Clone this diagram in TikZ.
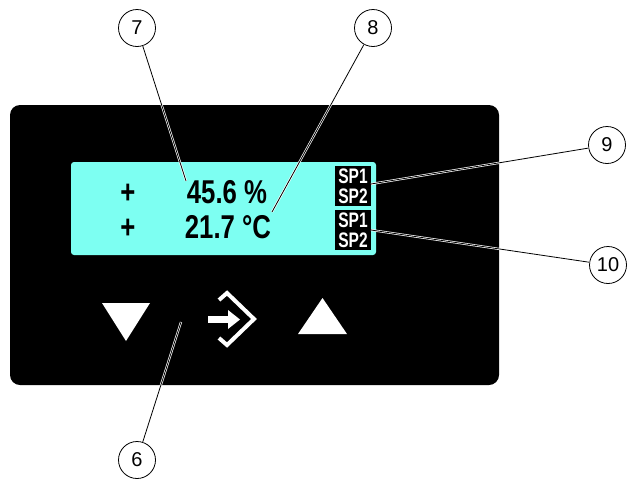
\documentclass[tikz,border=0pt]{standalone}
\usepackage{fontspec}
\setmainfont{Liberation Sans}
\newfontfamily\lcdfont[FakeStretch=0.78]{Liberation Sans}
\newfontfamily\spfont[FakeStretch=0.74]{Liberation Sans}
\definecolor{lcdcyan}{HTML}{7DFFF2}
\begin{document}
\begin{tikzpicture}[x=1pt,y=-1pt,
  callout/.style={circle,draw=black,line width=0.8pt,fill=white,minimum size=37pt,inner sep=0pt,font=\fontsize{20}{20}\selectfont},
  leader/.style={draw=white,double=black,line width=0.7pt,double distance=0.8pt},
  digits/.style={anchor=base,inner sep=0pt,font=\lcdfont\bfseries\fontsize{33}{33}\selectfont},
  sptext/.style={anchor=base,inner sep=0pt,text=white,font=\spfont\bfseries\fontsize{21}{21}\selectfont},
  spbox/.style={fill=black},
  key/.style={fill=white,draw=none}]
\useasboundingbox (0,0) rectangle (631,480);
% panel
\fill[black,rounded corners=10pt] (10,105) rectangle (499,385);
% LCD
\fill[lcdcyan,rounded corners=3pt] (71,162) rectangle (376,255);
% readings
\node[digits] (p1) at (128,203) {+};
\node[digits] (p2) at (128,238) {+};
\node[digits] (v1) at (227,203) {45.6 \%};
\node[digits] (v2) at (228,238) {21.7 °C};
\coordinate (t7) at (186,181);
\coordinate (t8) at (272,212);
% SP boxes
\fill[spbox] (335,166) rectangle (371,206);
\fill[spbox] (335,210) rectangle (371,250);
\node[sptext] (s11) at (353,183) {SP1};
\node[sptext] (s12) at (353,203) {SP2};
\node[sptext] (s21) at (353,227) {SP1};
\node[sptext] (s22) at (353,247) {SP2};
\coordinate (t9) at (371,184);
\coordinate (t10) at (371,230);
% keys
\fill[key] (102,303) -- (150,303) -- (126,341) -- cycle;
\fill[key] (298,334) -- (347,334) -- (322.5,298) -- cycle;
\draw[white,line width=4pt,line join=miter] (219,300) -- (227,293) -- (254,319) -- (227,345) -- (219,338);
\fill[white] (208,316) rectangle (230,323);
\fill[white] (228,310) -- (240,319.5) -- (228,329) -- cycle;
\coordinate (t6) at (181,322);
% callouts
\node[callout] (c7) at (137,28) {7};
\node[callout] (c8) at (373,28) {8};
\node[callout] (c9) at (607,145) {9};
\node[callout] (c10) at (608,265) {10};
\node[callout] (c6) at (137,460) {6};
\draw[leader] (c7) -- (t7);
\draw[leader] (c8) -- (t8);
\draw[leader] (c9) -- (t9);
\draw[leader] (c10) -- (t10);
\draw[leader] (c6) -- (t6);
\end{tikzpicture}
\end{document}
